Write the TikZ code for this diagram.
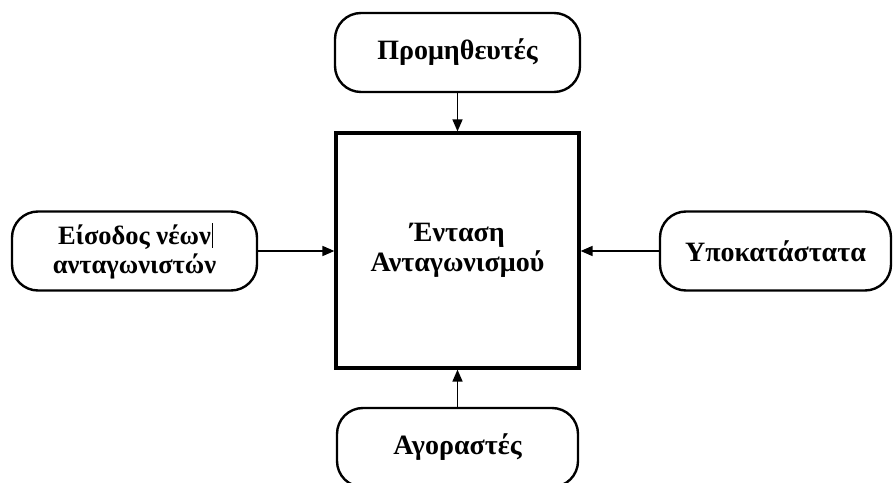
\documentclass[tikz,border=0pt]{standalone}
\usepackage{fontspec}
\setmainfont{Liberation Serif}
\usetikzlibrary{arrows.meta}
\begin{document}
\begin{tikzpicture}[x=1pt,y=1pt,
  force/.style={draw=black, line width=2.4pt, rounded corners=26pt,
    minimum width=245pt, minimum height=79pt, align=center,
    font=\fontsize{28}{30}\selectfont\bfseries, inner sep=0pt},
  core/.style={draw=black, line width=3.2pt, minimum width=243pt,
    minimum height=235pt, align=center,
    font=\fontsize{28}{30}\selectfont\bfseries, inner sep=0pt},
  link/.style={line width=1.6pt, -{Triangle[length=12pt,width=10pt]}}]
\useasboundingbox (0,0) rectangle (893,482);
\fill[white] (0,0) rectangle (893,482);

\node[core] (center) at (457.5,231.5) {Ένταση\\Ανταγωνισμού};
\node[force] (top) at (457.5,429.5) {Προμηθευτές};
% the first line ends with a typing cursor bar
\node[force, font=\fontsize{26.5}{29}\selectfont\bfseries] (left) at (134.5,231)
  {Είσοδος νέων\rlap{\hspace{1.5pt}\rule[-3pt]{1pt}{25pt}}\\ανταγωνιστών};
\node[force, minimum width=231pt] (right) at (775.5,231) {Υποκατάστατα};
\node[force, minimum width=241pt] (bottom) at (457.5,34.5) {Αγοραστές};

\draw[link] (top.south) -- (center.north);
\draw[link] (bottom.north) -- (center.south);
\draw[link] (left.east) -- (center.west |- left.east);
\draw[link] (right.west) -- (center.east |- right.west);
\end{tikzpicture}
\end{document}
